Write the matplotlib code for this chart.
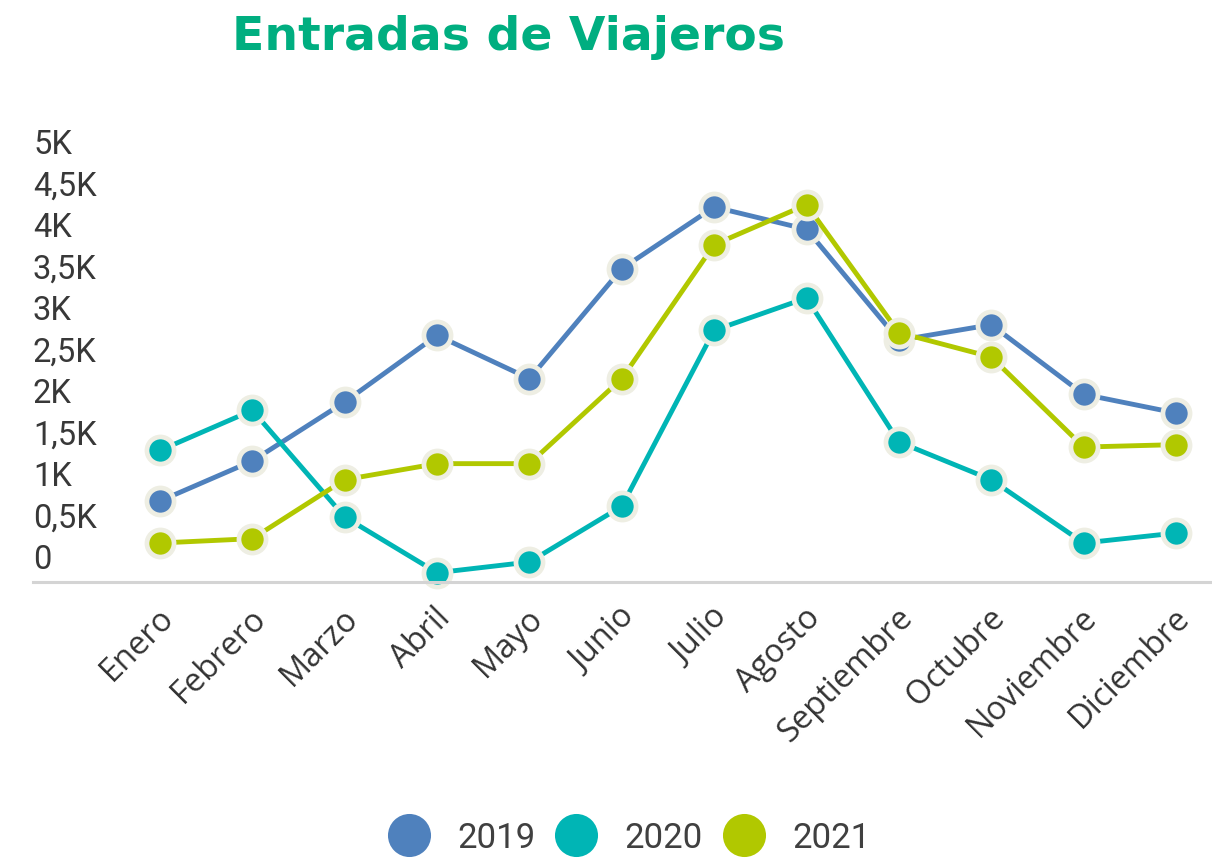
import matplotlib
matplotlib.use('Agg')
import matplotlib.pyplot as plt
from matplotlib.lines import Line2D
from matplotlib.transforms import ScaledTranslation, blended_transform_factory

# datos (entradas de viajeros por mes)
meses = ['Enero', 'Febrero', 'Marzo', 'Abril', 'Mayo', 'Junio', 'Julio',
         'Agosto', 'Septiembre', 'Octubre', 'Noviembre', 'Diciembre']
v2019 = [976, 1458, 2169, 2972, 2450, 3775, 4518, 4249, 2912, 3100, 2261, 2036]
v2020 = [1586, 2068, 783, 112, 241, 912, 3032, 3422, 1687, 1233, 470, 590]
v2021 = [470, 522, 1233, 1426, 1426, 2450, 4064, 4546, 3004, 2711, 1626, 1655]
años = ['2019', '2020', '2021']
colores = ['#4F81BD', '#00B5B5', '#B1C800']
yticks = [0, 500, 1000, 1500, 2000, 2500, 3000, 3500, 4000, 4500, 5000]
ylabels = ['0', '0,5K', '1K', '1,5K', '2K', '2,5K', '3K', '3,5K', '4K', '4,5K', '5K']

W, H = 1212, 859
fig = plt.figure(figsize=(W / 100, H / 100), dpi=100)
# ejes en pixeles: izquierda 33, derecha 1212, cero en y=582
ax = fig.add_axes([33 / W, (H - 582) / H, (1212 - 33) / W, 456.5 / H])

x = list(range(len(meses)))
for vals, col in zip([v2019, v2020, v2021], colores):
    ax.plot(x, vals, color=col, lw=3.5, marker='o', ms=19.5,
            markerfacecolor=col, markeredgecolor='#EEEEE3', mew=3.4,
            solid_capstyle='round', clip_on=False)

ax.set_xlim(-1.375, 11.39)
ax.set_ylim(0, 5500)

for s in ['top', 'right', 'left']:
    ax.spines[s].set_visible(False)
ax.spines['bottom'].set_color('#D4D4D4')
ax.spines['bottom'].set_linewidth(2.2)

ax.set_yticks([])
# etiquetas del eje y, algo por encima de su valor
tr = blended_transform_factory(ax.transAxes, ax.transData) + \
    ScaledTranslation(0, 22 / 100, fig.dpi_scale_trans)
for v, lab in zip(yticks, ylabels):
    ax.text(0, v, lab, transform=tr, ha='left', va='center',
            fontsize=23.5, color='#383838', family='Roboto')

ax.set_xticks(x)
ax.set_xticklabels(meses, rotation=45, ha='right', rotation_mode='anchor',
                   fontsize=23.5, color='#333333', family='Open Sans')
ax.tick_params(axis='x', length=0, pad=14)
for lab in ax.get_xticklabels():
    lab.set_transform(lab.get_transform() + ScaledTranslation(-3 / 100, 0, fig.dpi_scale_trans))

fig.text(508 / W, 1 - 37 / H, 'Entradas de Viajeros', ha='center', va='center',
         fontsize=34, fontweight='bold', color='#00AE80', family='DejaVu Sans')

handles = [Line2D([], [], ls='none', marker='o', ms=31, color=c, mew=0) for c in colores]
leg = fig.legend(handles, años, loc='center', bbox_to_anchor=(630 / W, 1 - 838 / H),
                 ncol=3, frameon=False, handlelength=1.1, handletextpad=0.85,
                 columnspacing=0.62, prop={'family': 'Roboto', 'size': 25})
for t in leg.get_texts():
    t.set_color('#404040')

fig.savefig('out.png', dpi=100)
